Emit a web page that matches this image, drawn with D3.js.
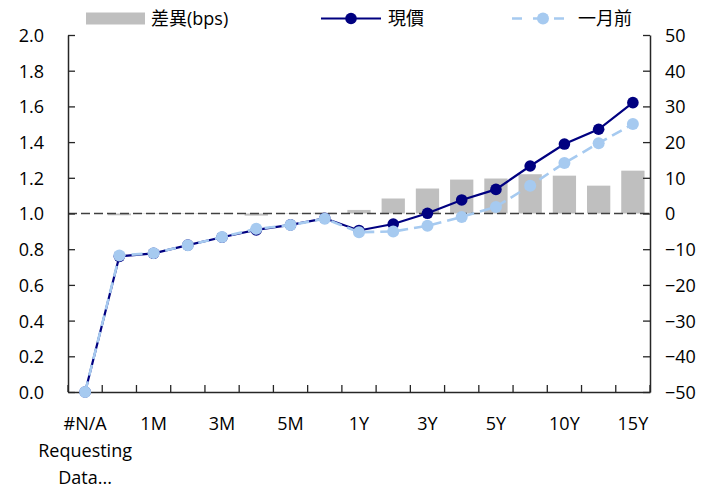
<!DOCTYPE html>
<html>
<head>
<meta charset="utf-8">
<script src="https://cdn.jsdelivr.net/npm/d3@7"></script>
<style>
  html, body { margin: 0; padding: 0; background: #fff; }
  svg { display: block; }
  text { font-family: "Open Sans", "Noto Sans CJK TC", sans-serif; fill: #000; }
</style>
</head>
<body>
<svg id="chart" width="708" height="488"></svg>
<script>
// Tenors of the curve (first one is a data-feed placeholder)
const categories = ["#N/A\nRequesting\nData...", "1W", "1M", "2M", "3M", "4M", "5M", "6M",
                    "1Y", "2Y", "3Y", "4Y", "5Y", "7Y", "10Y", "12Y", "15Y"];
// Current yield (%)
const current = [0.00, 0.76, 0.777, 0.823, 0.867, 0.908, 0.936, 0.973,
                 0.905, 0.941, 1.001, 1.076, 1.135, 1.266, 1.389, 1.472, 1.621];
// Change versus one month ago (bps)
const diffBps = [0, -0.5, -0.1, 0.1, -0.1, -0.6, 0.1, 0.2,
                 1.0, 4.2, 7.0, 9.5, 9.8, 11.0, 10.6, 7.8, 12.0];
// Yield one month ago (%), derived from the current yield and the change
const monthAgo = current.map((v, i) => +(v - diffBps[i] / 100).toFixed(4));

const leftTicks = [0, 0.2, 0.4, 0.6, 0.8, 1.0, 1.2, 1.4, 1.6, 1.8, 2.0];
const rightTicks = [-50, -40, -30, -20, -10, 0, 10, 20, 30, 40, 50];

const seriesNames = { bar: "差異(bps)", cur: "現價", prev: "一月前" };
const colors = { bar: "#BFBFBF", cur: "#000080", prev: "#A6CAF0", ref: "#404040", axis: "#262626" };

const svg = d3.select("#chart");
const m = { left: 68, right: 58, top: 35, bottom: 96 };
const W = 708, H = 488;
const iw = W - m.left - m.right, ih = H - m.top - m.bottom;

const x = d3.scaleBand().domain(d3.range(categories.length)).range([m.left, m.left + iw]).padding(0);
const yL = d3.scaleLinear().domain([0, 2]).range([m.top + ih, m.top]);
const yR = d3.scaleLinear().domain([-50, 50]).range([m.top + ih, m.top]);
const cx = i => x(i) + x.bandwidth() / 2;

// bars: change in bps on the right axis
const barW = x.bandwidth() * 0.68;
svg.append("g").selectAll("rect").data(diffBps).join("rect")
  .attr("x", (d, i) => cx(i) - barW / 2)
  .attr("width", barW)
  .attr("y", d => Math.min(yR(d), yR(0)))
  .attr("height", d => Math.abs(yR(d) - yR(0)))
  .attr("fill", colors.bar);

// zero-change reference line
svg.append("line")
  .attr("x1", m.left).attr("x2", m.left + iw)
  .attr("y1", yR(0)).attr("y2", yR(0))
  .attr("stroke", colors.ref).attr("stroke-width", 1.5)
  .attr("stroke-dasharray", "9,4");

// axes
const fontSize = 18;
const axL = svg.append("g").attr("transform", `translate(${m.left},0)`)
  .call(d3.axisLeft(yL).tickValues(leftTicks).tickFormat(d3.format(".1f"))
    .tickSizeInner(-7).tickSizeOuter(0).tickPadding(24));
const axR = svg.append("g").attr("transform", `translate(${m.left + iw},0)`)
  .call(d3.axisRight(yR).tickValues(rightTicks).tickFormat(d3.format("d"))
    .tickSizeInner(-7).tickSizeOuter(0).tickPadding(15));
const axB = svg.append("g").attr("transform", `translate(0,${m.top + ih})`)
  .call(d3.axisBottom(x).tickSize(0).tickPadding(0).tickFormat(() => ""));

[axL, axR, axB].forEach(g => {
  g.selectAll(".domain").attr("stroke", colors.axis).attr("stroke-width", 1.5);
  g.selectAll(".tick line").attr("stroke", colors.axis).attr("stroke-width", 1.3);
  g.selectAll("text").attr("font-size", fontSize).attr("font-family", null).attr("fill", "#000");
});
axL.selectAll(".tick text").attr("dy", "0.36em");
axR.selectAll(".tick text").attr("dy", "0.36em");

// category boundary ticks on the x axis
const bounds = d3.range(categories.length + 1).map(i => i < categories.length ? x(i) : x(i - 1) + x.bandwidth());
svg.append("g").selectAll("line").data(bounds).join("line")
  .attr("x1", d => d).attr("x2", d => d)
  .attr("y1", m.top + ih).attr("y2", m.top + ih - 7)
  .attr("stroke", colors.axis).attr("stroke-width", 1.3);

// category labels (every other tenor)
const lab = svg.append("g").selectAll("text")
  .data(categories.map((c, i) => ({ c, i })).filter(d => d.i % 2 === 0))
  .join("text")
  .attr("text-anchor", "middle")
  .attr("font-size", fontSize)
  .attr("y", m.top + ih + 38);
lab.each(function (d) {
  const t = d3.select(this);
  d.c.split("\n").forEach((s, k) => {
    t.append("tspan").attr("x", cx(d.i)).attr("dy", k === 0 ? 0 : 27).text(s);
  });
});

// lines
const line = d3.line().x((d, i) => cx(i)).y(d => yL(d));
svg.append("path").datum(current)
  .attr("d", line).attr("fill", "none")
  .attr("stroke", colors.cur).attr("stroke-width", 2.2);
svg.append("g").selectAll("circle").data(current).join("circle")
  .attr("cx", (d, i) => cx(i)).attr("cy", d => yL(d)).attr("r", 5.8)
  .attr("fill", colors.cur);

svg.append("path").datum(monthAgo)
  .attr("d", line).attr("fill", "none")
  .attr("stroke", colors.prev).attr("stroke-width", 2.6)
  .attr("stroke-dasharray", "11,6");
svg.append("g").selectAll("circle").data(monthAgo).join("circle")
  .attr("cx", (d, i) => cx(i)).attr("cy", d => yL(d)).attr("r", 6)
  .attr("fill", colors.prev);

// legend
const lg = svg.append("g");
const ly = 18.5;
lg.append("rect").attr("x", 86).attr("y", 12.5).attr("width", 59).attr("height", 12).attr("fill", colors.bar);
lg.append("text").attr("x", 151).attr("y", ly).attr("dy", "0.36em").attr("font-size", fontSize).text(seriesNames.bar);

lg.append("line").attr("x1", 321).attr("x2", 381).attr("y1", ly).attr("y2", ly)
  .attr("stroke", colors.cur).attr("stroke-width", 2.2);
lg.append("circle").attr("cx", 351).attr("cy", ly).attr("r", 5.8).attr("fill", colors.cur);
lg.append("text").attr("x", 388).attr("y", ly).attr("dy", "0.36em").attr("font-size", fontSize).text(seriesNames.cur);

lg.append("line").attr("x1", 512).attr("x2", 574).attr("y1", ly).attr("y2", ly)
  .attr("stroke", colors.prev).attr("stroke-width", 2.6).attr("stroke-dasharray", "10,11");
lg.append("circle").attr("cx", 543).attr("cy", ly).attr("r", 6).attr("fill", colors.prev);
lg.append("text").attr("x", 578).attr("y", ly).attr("dy", "0.36em").attr("font-size", fontSize).text(seriesNames.prev);
</script>
</body>
</html>
